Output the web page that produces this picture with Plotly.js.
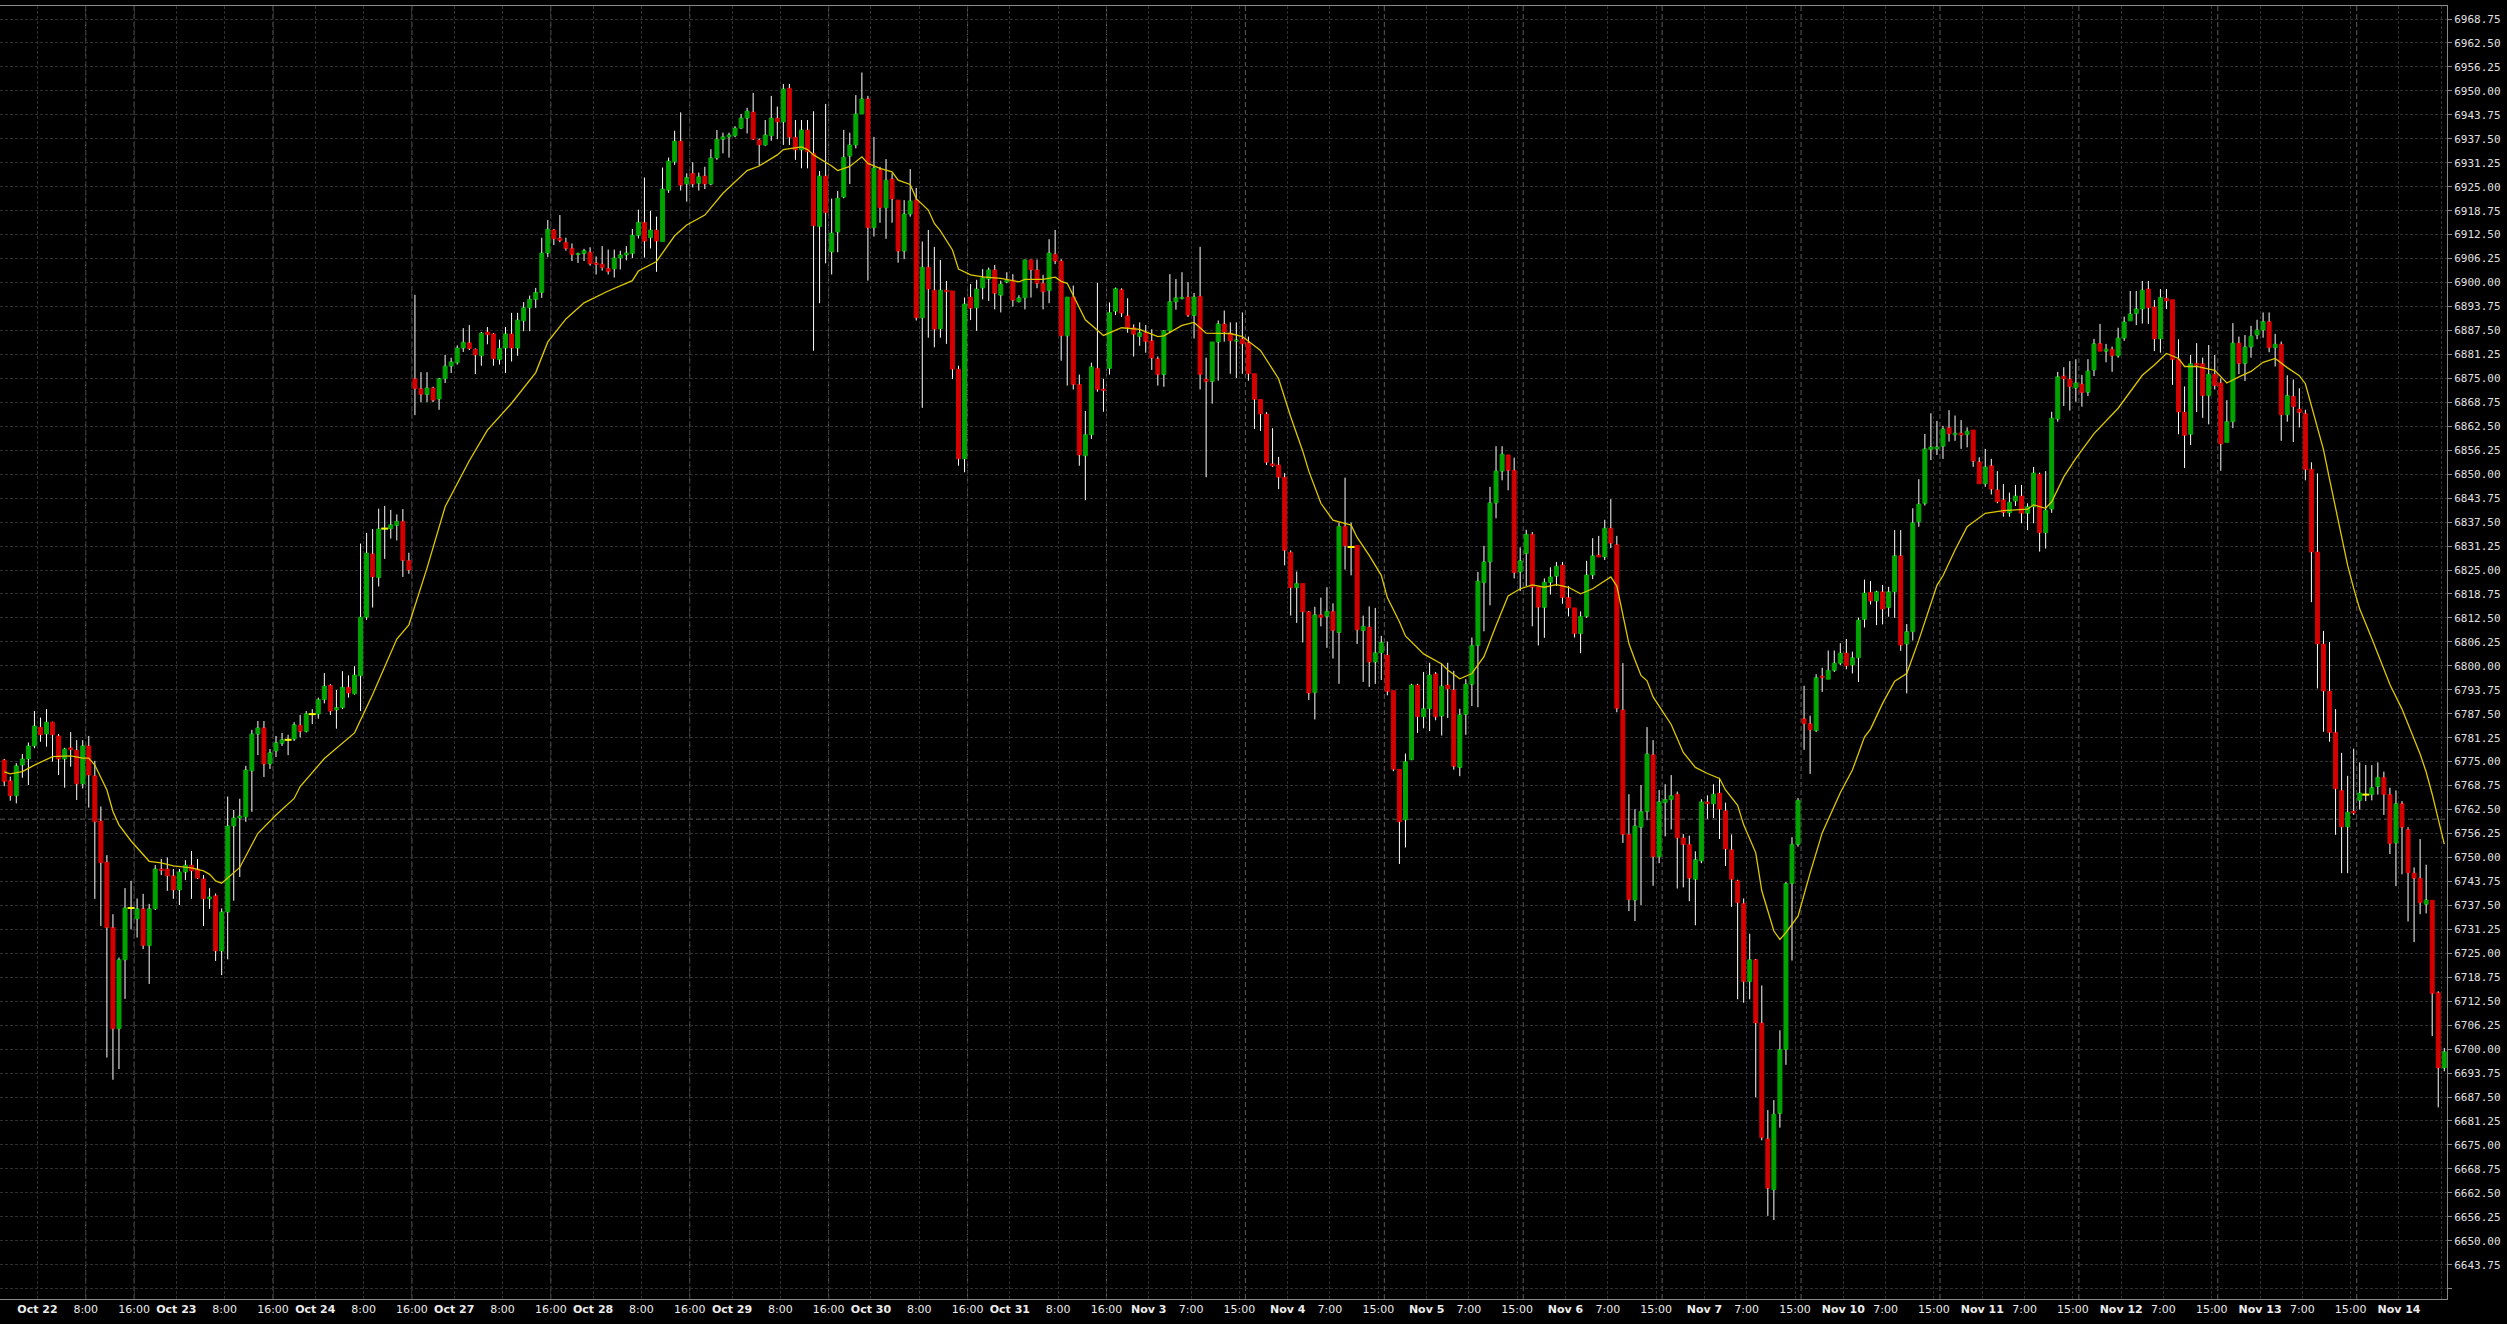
<!DOCTYPE html>
<html>
<head>
<meta charset="utf-8">
<script src="https://cdn.plot.ly/plotly-3.0.1.min.js"></script>
<style>
html,body{margin:0;padding:0;background:#000;overflow:hidden}
#chart{width:2507px;height:1324px}
</style>
</head>
<body>
<div id="chart"></div>
<script>
// ---- hourly OHLC bars (bar index 0..404) ----
const OPEN = [
6775.4,6770.0,6766.1,6774.1,6775.7,6779.1,6784.0,6782.2,6785.3,6781.7,
6775.7,6778.6,6778.0,6769.2,6779.1,6771.3,6759.5,6748.8,6731.7,6705.3,
6723.3,6736.8,6734.0,6736.6,6727.0,6736.6,6747.0,6747.0,6745.2,6741.5,
6746.2,6748.0,6747.0,6744.4,6739.2,6740.0,6725.6,6735.8,6758.2,6760.3,
6760.6,6772.6,6782.2,6783.8,6774.4,6777.8,6779.8,6780.7,6780.9,6784.5,
6782.9,6787.4,6787.4,6791.2,6794.9,6788.5,6789.1,6794.4,6792.7,6797.4,
6812.7,6829.2,6823.0,6835.8,6835.8,6836.6,6837.7,6827.5,6874.9,6872.3,
6870.8,6872.5,6869.6,6874.9,6878.2,6879.1,6882.9,6884.3,6882.6,6880.9,
6887.1,6886.6,6879.9,6882.9,6886.6,6882.9,6890.0,6893.4,6895.6,6897.4,
6907.7,6913.7,6911.6,6910.5,6908.9,6907.3,6907.6,6907.9,6905.1,6904.8,
6903.7,6903.6,6906.4,6907.2,6907.6,6912.3,6915.7,6911.7,6913.7,6910.7,
6924.1,6931.5,6936.9,6925.7,6928.5,6925.9,6927.8,6925.7,6932.5,6937.4,
6938.0,6938.3,6940.3,6942.9,6944.5,6937.2,6935.9,6938.3,6942.9,6941.9,
6950.7,6937.9,6934.6,6939.8,6933.7,6914.6,6927.8,6908.0,6913.2,6922.3,
6933.0,6935.9,6944.0,6947.9,6914.3,6929.4,6919.5,6927.0,6921.5,6908.2,
6917.9,6921.5,6890.8,6904.0,6898.0,6887.9,6898.0,6897.8,6877.4,6854.0,
6896.2,6893.4,6898.6,6900.9,6903.3,6896.7,6900.1,6900.6,6895.0,6896.0,
6905.9,6903.3,6899.8,6897.9,6907.4,6905.6,6886.1,6896.2,6873.4,6854.8,
6860.3,6877.6,6872.2,6877.6,6892.5,6898.1,6891.3,6888.2,6885.9,6886.9,
6884.8,6880.1,6876.0,6887.4,6895.0,6895.8,6896.2,6891.4,6896.4,6874.8,
6874.2,6884.5,6889.2,6886.8,6884.7,6885.3,6884.3,6876.2,6869.5,6865.7,
6852.7,6852.4,6849.2,6829.6,6820.4,6821.5,6814.1,6793.0,6813.3,6812.9,
6814.2,6808.7,6836.4,6831.0,6831.4,6809.2,6810.1,6801.0,6803.4,6802.8,
6793.5,6773.0,6759.8,6775.5,6795.0,6786.7,6788.8,6797.9,6786.9,6795.0,
6793.7,6773.5,6787.3,6795.2,6805.3,6821.7,6827.1,6842.5,6850.8,6855.0,
6851.0,6824.5,6829.3,6834.3,6820.5,6815.2,6821.8,6823.4,6826.3,6817.8,
6815.1,6808.4,6812.9,6823.7,6828.9,6828.4,6835.9,6831.6,6788.5,6756.0,
6738.9,6757.9,6762.0,6776.8,6750.2,6764.3,6765.1,6766.5,6755.1,6753.4,
6744.3,6749.1,6764.5,6764.0,6766.8,6762.2,6752.0,6743.9,6738.0,6717.6,
6723.3,6706.8,6676.6,6663.3,6683.2,6699.9,6743.2,6753.4,6786.2,6784.9,
6783.1,6797.3,6796.5,6798.8,6800.7,6803.3,6800.2,6802.1,6812.1,6819.2,
6816.9,6819.3,6815.2,6819.3,6828.7,6805.7,6808.9,6837.6,6842.4,6856.4,
6856.6,6857.3,6862.1,6860.3,6860.7,6860.3,6861.5,6853.2,6847.5,6852.2,
6845.9,6843.3,6839.9,6843.0,6844.3,6839.8,6841.5,6850.0,6834.7,6840.9,
6864.4,6875.6,6874.8,6872.5,6873.5,6871.4,6877.2,6884.1,6882.1,6882.6,
6880.9,6885.5,6890.0,6891.9,6893.1,6898.3,6893.6,6885.3,6895.9,6895.5,
6879.9,6866.2,6860.4,6878.9,6878.8,6870.5,6876.1,6873.8,6858.3,6863.7,
6884.2,6878.9,6883.2,6886.3,6887.6,6889.8,6883.0,6883.9,6865.5,6870.3,
6867.0,6865.8,6851.3,6829.7,6805.7,6793.4,6782.6,6767.5,6758.0,6762.1,
6764.9,6766.4,6766.4,6768.5,6770.9,6766.4,6753.8,6764.0,6757.3,6745.9,
6744.6,6737.8,6738.8,6714.7,6695.1
];
const HIGH = [
6775.7,6771.1,6774.6,6777.0,6780.0,6788.2,6786.5,6788.7,6785.4,6782.2,
6778.6,6782.7,6780.6,6780.6,6781.7,6775.2,6763.3,6750.6,6735.2,6723.9,
6742.0,6743.9,6739.3,6740.5,6737.9,6748.0,6749.6,6750.0,6747.0,6747.0,
6749.3,6751.7,6749.6,6745.4,6742.0,6740.6,6736.7,6765.9,6762.4,6765.3,
6773.9,6783.3,6785.6,6785.6,6778.3,6781.7,6782.5,6782.0,6785.3,6787.2,
6788.2,6788.7,6791.7,6798.1,6795.2,6793.7,6798.6,6797.5,6799.9,6831.9,
6834.7,6835.7,6841.0,6841.7,6840.7,6839.5,6840.9,6829.5,6896.8,6876.6,
6876.6,6872.8,6875.1,6881.1,6880.4,6883.6,6888.1,6888.9,6882.8,6887.1,
6888.4,6886.8,6885.1,6888.4,6892.1,6892.1,6894.9,6896.6,6898.6,6911.7,
6916.3,6913.9,6917.6,6911.7,6910.2,6907.8,6908.8,6909.2,6906.8,6909.5,
6908.6,6908.6,6908.3,6909.5,6914.0,6919.0,6927.4,6918.7,6917.2,6930.0,
6932.6,6939.6,6944.4,6928.5,6931.4,6928.7,6930.2,6934.8,6939.8,6939.1,
6939.1,6940.8,6944.0,6945.6,6949.5,6937.6,6942.4,6948.7,6945.9,6951.8,
6951.8,6942.4,6942.4,6942.4,6944.7,6929.1,6946.6,6921.9,6923.9,6939.8,
6939.1,6948.9,6954.8,6948.7,6938.0,6930.2,6932.2,6928.5,6921.5,6921.5,
6929.6,6924.7,6910.7,6913.7,6909.3,6905.9,6900.4,6897.8,6878.3,6896.1,
6899.6,6900.7,6903.5,6903.9,6904.6,6900.5,6902.7,6902.2,6896.7,6906.0,
6906.0,6906.0,6902.0,6911.3,6913.7,6906.1,6896.2,6899.2,6876.0,6866.5,
6879.1,6899.9,6874.9,6894.8,6898.7,6898.5,6895.9,6889.1,6889.6,6888.9,
6887.8,6880.7,6887.6,6902.2,6900.9,6902.7,6900.1,6897.3,6909.3,6880.4,
6884.5,6890.1,6892.7,6889.6,6889.6,6892.2,6885.9,6876.2,6869.5,6866.2,
6862.0,6854.5,6850.3,6830.1,6824.6,6821.5,6814.3,6815.4,6817.8,6820.5,
6816.3,6837.4,6849.1,6837.4,6831.4,6813.1,6815.5,6815.1,6807.8,6806.3,
6793.5,6773.0,6777.1,6795.3,6795.3,6798.4,6800.8,6798.4,6800.5,6800.8,
6798.7,6788.8,6796.5,6807.4,6824.5,6831.3,6846.7,6857.3,6857.3,6855.0,
6854.3,6830.9,6835.5,6834.9,6820.5,6822.8,6825.7,6827.1,6827.1,6820.8,
6815.1,6814.2,6827.4,6833.3,6833.9,6838.1,6843.5,6833.9,6800.7,6766.5,
6762.6,6768.9,6784.0,6780.6,6767.6,6769.1,6771.5,6767.2,6756.1,6755.7,
6751.6,6765.2,6766.2,6769.1,6770.8,6764.3,6756.0,6744.2,6739.3,6730.1,
6723.5,6716.6,6684.1,6686.7,6704.9,6743.6,6755.3,6765.5,6794.8,6787.0,
6797.8,6799.5,6804.0,6804.0,6805.9,6807.0,6803.7,6812.6,6822.5,6822.1,
6819.6,6821.1,6820.6,6835.4,6835.4,6810.9,6841.1,6848.7,6860.5,6865.9,
6863.9,6862.6,6866.7,6865.3,6864.1,6862.2,6861.5,6854.4,6856.6,6854.0,
6850.8,6847.4,6845.2,6847.2,6847.2,6842.4,6851.9,6850.4,6850.8,6866.3,
6876.7,6877.9,6879.5,6880.0,6875.9,6880.0,6885.3,6889.2,6884.0,6883.3,
6888.2,6891.1,6897.8,6897.8,6900.4,6900.4,6895.4,6898.3,6898.3,6895.5,
6885.2,6872.9,6881.1,6884.2,6880.4,6883.7,6881.1,6875.0,6869.3,6889.4,
6885.9,6886.3,6888.7,6890.3,6892.2,6892.2,6886.6,6884.6,6875.8,6874.7,
6872.4,6866.8,6853.1,6850.2,6809.1,6806.2,6788.7,6777.3,6771.3,6778.4,
6774.8,6774.1,6774.1,6774.8,6772.4,6768.2,6767.5,6764.7,6757.9,6747.4,
6754.8,6748.1,6738.8,6715.1,6700.3
];
const LOW = [
6768.6,6764.8,6764.1,6770.8,6768.9,6778.5,6780.2,6778.9,6775.0,6771.5,
6768.2,6773.7,6765.0,6768.0,6763.0,6739.2,6732.1,6697.8,6692.0,6694.8,
6713.1,6731.3,6729.1,6726.1,6717.0,6736.3,6745.4,6741.3,6739.2,6737.6,
6744.1,6739.2,6744.4,6732.1,6736.6,6723.0,6719.3,6723.4,6738.7,6744.9,
6759.3,6761.9,6776.7,6771.0,6773.1,6776.2,6779.1,6776.7,6780.4,6781.3,
6782.6,6784.8,6786.2,6790.2,6787.2,6783.6,6788.7,6791.7,6792.5,6788.2,
6812.0,6815.2,6820.7,6827.9,6833.2,6832.7,6823.2,6824.0,6865.4,6868.8,
6868.8,6868.8,6866.8,6873.8,6876.4,6878.6,6881.9,6882.4,6876.1,6878.3,
6883.9,6878.3,6878.6,6876.4,6879.4,6880.9,6887.3,6887.3,6893.4,6896.0,
6906.6,6909.8,6910.5,6908.3,6905.6,6905.1,6905.6,6904.4,6902.1,6903.1,
6902.1,6901.3,6903.4,6905.8,6906.4,6911.5,6906.5,6908.9,6902.8,6910.7,
6923.4,6930.7,6924.0,6921.1,6924.8,6924.0,6924.4,6925.4,6932.0,6933.7,
6932.6,6937.9,6940.1,6938.9,6937.2,6930.5,6935.7,6937.0,6937.4,6935.9,
6935.9,6932.0,6929.8,6929.8,6882.2,6894.6,6905.0,6902.1,6907.9,6922.0,
6925.7,6935.0,6944.0,6900.5,6912.0,6915.6,6911.4,6915.6,6905.2,6906.1,
6917.2,6890.1,6867.3,6885.6,6883.1,6885.6,6884.0,6874.8,6852.2,6850.5,
6890.2,6887.4,6895.6,6895.2,6893.0,6892.2,6899.8,6893.7,6894.8,6893.0,
6896.1,6898.5,6893.0,6894.6,6904.8,6879.6,6873.1,6872.1,6852.2,6843.2,
6859.2,6871.5,6866.3,6876.0,6891.5,6891.0,6886.9,6880.7,6883.5,6881.7,
6877.2,6873.1,6872.8,6886.8,6892.9,6895.6,6891.0,6885.4,6872.1,6849.2,
6868.4,6874.4,6884.6,6876.2,6875.1,6876.2,6874.4,6861.8,6861.3,6852.4,
6851.9,6846.1,6826.2,6813.1,6811.2,6806.1,6791.1,6786.0,6810.3,6804.7,
6801.9,6795.3,6825.1,6823.6,6805.7,6795.8,6794.5,6795.3,6796.3,6792.3,
6772.5,6748.3,6752.6,6775.4,6782.5,6783.7,6783.0,6785.8,6781.8,6786.4,
6772.9,6771.2,6782.0,6789.5,6789.2,6809.0,6815.8,6838.5,6848.4,6845.8,
6822.8,6819.5,6820.8,6810.3,6805.3,6807.3,6818.6,6820.8,6816.2,6812.9,
6807.4,6803.3,6812.5,6822.6,6828.4,6827.6,6830.7,6787.9,6753.8,6736.0,
6733.4,6737.6,6759.7,6742.6,6748.5,6755.5,6757.3,6741.9,6742.2,6738.6,
6732.3,6748.5,6760.1,6760.3,6754.8,6747.8,6737.1,6713.0,6712.1,6713.0,
6687.4,6676.2,6656.5,6655.4,6679.5,6695.9,6723.1,6752.8,6778.1,6771.8,
6782.7,6793.2,6796.5,6798.4,6800.2,6799.1,6798.0,6795.8,6810.0,6816.0,
6810.6,6810.8,6812.8,6812.5,6803.9,6792.8,6806.6,6836.3,6841.8,6853.7,
6855.0,6854.0,6858.5,6858.7,6856.6,6857.0,6851.9,6847.5,6846.7,6844.7,
6842.4,6838.9,6838.9,6841.7,6837.2,6835.4,6837.2,6829.8,6830.6,6839.9,
6863.7,6867.8,6866.6,6868.9,6867.6,6870.4,6875.6,6882.1,6879.2,6876.7,
6880.4,6884.8,6890.0,6888.9,6889.3,6889.2,6882.1,6881.7,6893.1,6873.3,
6860.4,6851.6,6857.6,6866.2,6864.7,6863.0,6872.1,6850.9,6858.3,6862.0,
6876.1,6874.3,6880.4,6885.2,6885.6,6881.8,6878.1,6858.7,6863.7,6858.4,
6862.2,6848.4,6816.6,6794.1,6782.8,6780.2,6755.9,6745.9,6745.9,6761.1,
6762.5,6764.7,6764.9,6766.4,6761.1,6750.9,6742.5,6745.6,6733.3,6727.9,
6735.2,6735.4,6703.4,6684.8,6694.2
];
const CLOSE = [
6769.8,6766.1,6773.9,6775.7,6779.1,6784.3,6782.0,6785.3,6782.0,6775.7,
6778.3,6778.1,6769.2,6779.1,6771.5,6759.3,6748.6,6731.7,6705.3,6723.3,
6736.8,6736.8,6736.6,6727.0,6736.6,6747.0,6746.6,6745.2,6741.5,6746.2,
6748.0,6746.5,6744.6,6739.2,6739.7,6725.6,6735.8,6758.2,6760.3,6760.8,
6772.8,6782.2,6783.8,6774.4,6777.3,6779.9,6780.7,6780.7,6784.6,6782.9,
6787.5,6787.4,6791.2,6794.7,6788.2,6789.1,6794.4,6792.9,6797.6,6812.7,
6829.4,6823.2,6835.7,6835.8,6836.8,6837.7,6827.5,6825.0,6872.3,6870.8,
6872.5,6869.3,6874.9,6878.2,6879.3,6882.9,6884.4,6882.8,6881.1,6886.8,
6886.4,6880.1,6882.8,6886.6,6882.9,6890.2,6893.4,6895.6,6897.4,6907.7,
6913.9,6911.4,6911.0,6908.9,6907.3,6907.6,6908.3,6904.9,6904.7,6903.9,
6902.9,6906.4,6907.2,6907.7,6912.3,6915.7,6910.8,6913.7,6910.8,6924.4,
6931.7,6936.9,6925.4,6927.4,6925.7,6927.6,6925.7,6932.5,6937.4,6938.0,
6938.5,6940.3,6942.9,6944.7,6937.4,6935.9,6938.5,6942.9,6941.9,6950.5,
6937.9,6934.6,6939.8,6934.1,6914.8,6927.8,6918.2,6912.9,6922.0,6932.7,
6935.9,6944.0,6947.9,6914.3,6929.9,6919.5,6926.7,6921.8,6908.2,6917.9,
6921.3,6890.8,6904.0,6898.3,6887.8,6898.0,6897.6,6877.4,6854.0,6894.4,
6893.3,6898.3,6901.2,6903.3,6897.2,6899.6,6900.6,6895.4,6896.0,6905.9,
6903.3,6899.8,6897.6,6907.7,6905.6,6886.1,6896.2,6873.4,6855.0,6860.3,
6878.0,6872.1,6871.8,6892.2,6898.4,6892.0,6888.2,6886.5,6886.9,6884.6,
6880.3,6876.0,6887.4,6895.0,6896.0,6896.1,6891.5,6896.2,6876.0,6874.2,
6884.5,6889.2,6887.1,6884.8,6885.0,6884.0,6876.2,6869.5,6865.7,6853.1,
6852.2,6849.2,6830.1,6820.4,6821.5,6814.1,6792.9,6813.3,6812.6,6814.2,
6809.2,6836.4,6831.3,6831.0,6809.4,6810.3,6801.0,6803.4,6806.1,6793.3,
6773.0,6759.3,6775.0,6795.0,6786.7,6788.8,6797.6,6786.7,6794.7,6794.0,
6773.8,6787.2,6795.2,6805.3,6822.1,6827.1,6842.5,6850.8,6855.2,6851.0,
6824.3,6827.4,6834.3,6820.5,6815.3,6821.8,6823.2,6826.0,6817.8,6815.1,
6808.4,6812.9,6823.7,6828.7,6828.4,6835.9,6832.0,6788.9,6756.0,6739.0,
6758.2,6762.0,6777.0,6750.2,6764.5,6765.1,6766.1,6755.1,6753.4,6744.6,
6749.4,6764.5,6764.0,6766.5,6762.6,6752.2,6744.3,6738.2,6717.6,6723.3,
6706.8,6676.9,6663.7,6683.0,6699.9,6743.2,6753.4,6764.9,6784.9,6783.3,
6796.9,6796.9,6798.8,6800.7,6803.3,6800.0,6802.1,6811.9,6819.0,6816.9,
6819.3,6814.8,6819.3,6828.7,6805.4,6808.9,6837.3,6842.2,6856.6,6857.1,
6857.1,6861.8,6860.5,6860.7,6860.2,6861.2,6853.4,6847.5,6851.9,6846.1,
6842.8,6840.0,6842.7,6844.3,6839.8,6841.5,6850.3,6834.7,6840.6,6864.6,
6875.4,6874.9,6872.8,6873.8,6871.3,6876.9,6884.0,6882.1,6882.6,6880.9,
6885.5,6889.7,6891.8,6893.1,6898.0,6893.4,6885.3,6896.1,6895.2,6879.9,
6866.2,6860.1,6878.8,6878.4,6870.5,6876.1,6873.1,6857.9,6863.7,6884.2,
6878.9,6883.2,6886.0,6887.6,6889.8,6883.0,6883.9,6865.5,6870.5,6867.6,
6866.1,6851.2,6829.7,6805.7,6793.4,6782.6,6767.9,6758.0,6761.8,6761.6,
6766.8,6766.4,6768.2,6770.9,6766.4,6753.6,6764.0,6757.9,6746.0,6744.6,
6738.2,6738.9,6714.5,6695.1,6699.3
];

// ---- moving average line (bar index, price) ----
const MA_X = [0,1,3,5,8,11,13,14,15,17,18,19,21,24,26,28,31,33,34,35,36,38,39,42,45,48,49,53,58,61,65,67,70,73,77,80,84,88,90,93,96,100,104,105,108,111,113,116,119,123,125,128,129,132,133,134,135,137,138,140,142,143,145,147,148,150,151,153,154,155,157,158,160,162,165,168,169,172,174,175,176,179,182,185,188,191,192,195,197,199,203,205,208,211,213,215,216,218,220,223,224,226,228,229,231,232,235,238,239,241,243,245,247,249,251,253,255,257,259,261,263,266,267,268,269,270,271,272,273,276,278,280,282,284,285,287,288,290,291,293,294,295,297,299,301,304,306,308,309,311,313,315,317,320,321,323,325,328,331,335,336,338,339,341,343,346,350,354,356,358,360,361,363,366,368,370,372,374,376,378,380,381,382,384,385,386,388,389,390,392,395,397,400,401,402,404];
const MA_Y = [6772.3,6771.8,6772.4,6774.1,6776.3,6776.5,6775.9,6775.9,6774.1,6767.6,6762.0,6758.5,6754.3,6749.0,6748.6,6747.8,6747.3,6746.5,6745.6,6743.9,6743.3,6746.0,6747.4,6756.3,6761.1,6765.4,6768.5,6775.8,6782.5,6792.5,6807.0,6810.7,6825.5,6841.5,6853.5,6861.5,6868.5,6876.5,6884.5,6890.5,6894.7,6897.8,6900.5,6903.0,6905.5,6912.2,6915.0,6917.6,6923.3,6929.2,6930.4,6933.3,6934.7,6935.4,6934.7,6933.3,6932.4,6930.4,6929.2,6930.3,6932.8,6931.1,6929.8,6928.9,6926.7,6925.6,6921.9,6918.9,6915.4,6913.5,6908.5,6903.5,6902.0,6901.5,6901.1,6900.2,6900.8,6900.8,6901.4,6900.3,6899.8,6890.3,6886.2,6888.2,6887.8,6885.9,6886.1,6888.8,6889.6,6886.8,6886.7,6885.9,6882.3,6874.9,6865.0,6856.0,6850.8,6842.4,6838.0,6836.7,6833.5,6828.8,6823.6,6817.8,6811.5,6807.8,6803.1,6800.5,6798.9,6796.6,6798.0,6802.4,6810.5,6818.2,6820.1,6821.1,6820.5,6821.2,6820.5,6818.8,6820.1,6823.2,6820.8,6813.0,6805.8,6801.5,6797.5,6796.1,6791.9,6784.7,6777.4,6773.5,6771.9,6770.6,6767.6,6763.6,6758.5,6751.2,6741.3,6730.8,6728.6,6730.4,6734.7,6745.9,6756.4,6766.9,6772.8,6781.4,6783.5,6790.2,6796.0,6798.0,6806.7,6821.0,6823.5,6830.2,6836.3,6839.8,6840.5,6840.9,6842.0,6841.1,6842.8,6849.3,6854.1,6860.6,6867.2,6875.8,6878.5,6881.5,6880.2,6878.1,6878.1,6877.1,6873.8,6875.4,6876.8,6879.2,6880.2,6877.8,6875.7,6873.6,6867.9,6856.4,6848.7,6841.0,6826.2,6820.2,6814.8,6807.1,6795.1,6788.7,6777.0,6772.3,6766.5,6753.5];

// ---- axis labels ----
const DAY_LABELS = ['Oct 22','Oct 23','Oct 24','Oct 27','Oct 28','Oct 29','Oct 30','Oct 31',
                    'Nov 3','Nov 4','Nov 5','Nov 6','Nov 7','Nov 10','Nov 11','Nov 12','Nov 13','Nov 14'];
const HOURS_OCT = [['8:00', 8], ['16:00', 16]];
const HOURS_NOV = [['7:00', 7], ['15:00', 15]];
const NOV_FROM = 8;            // first day using the 7:00 / 15:00 labels
const BARS_PER_DAY = 23;
const FIRST_DAY_START = 5.5;   // day boundary, in bar-index units
const SESSION_OFFSET = 16;     // session break (brighter dashed line) inside a day
const EXTRA_BREAKS = [13.5];
const REF_PRICE = 6760;        // brighter horizontal dashed line
const Y_STEP = 6.25, Y_FIRST = 6637.5, Y_LAST = 6968.75;
const X_RANGE = [-0.7, 404.45], Y_RANGE = [6634.8, 6972.15];

const GREEN = '#00a400', RED = '#d40000';

const N = OPEN.length;
const idx = Array.from({length: N}, (_, i) => i);
const bodyHigh = idx.map(i => Math.max(OPEN[i], CLOSE[i]));
const bodyLow = idx.map(i => Math.min(OPEN[i], CLOSE[i]));
const dojiIdx = idx.filter(i => Math.abs(OPEN[i] - CLOSE[i]) < 0.05);

// x ticks
const tickPos = [], tickText = [];
DAY_LABELS.forEach((d, k) => {
  const start = FIRST_DAY_START + BARS_PER_DAY * k;
  tickPos.push(start); tickText.push('<b>' + d + '</b>');
  (k >= NOV_FROM ? HOURS_NOV : HOURS_OCT).forEach(([lab, off]) => {
    const p = start + off;
    if (p < X_RANGE[1]) { tickPos.push(p); tickText.push(p < X_RANGE[1] - 3 ? lab : ''); }
  });
});
// y ticks
const yVals = [], yText = [];
for (let v = Y_FIRST; v <= Y_LAST + 1e-6; v += Y_STEP) {
  yVals.push(v); yText.push(v - Y_FIRST < 1 ? '' : v.toFixed(2));
}
// session-break lines
const breaks = EXTRA_BREAKS.slice();
DAY_LABELS.forEach((d, k) => {
  const p = FIRST_DAY_START + BARS_PER_DAY * k + SESSION_OFFSET;
  if (p < X_RANGE[1]) breaks.push(p);
});
const shapes = breaks.map(p => ({
  type: 'line', xref: 'x', yref: 'paper', x0: p, x1: p, y0: 0, y1: 1, layer: 'below',
  line: {color: '#5c5c5c', width: 1, dash: '5px,3px'}
}));
shapes.push({type: 'line', xref: 'paper', yref: 'y', x0: 0, x1: 1, y0: REF_PRICE, y1: REF_PRICE,
  layer: 'below', line: {color: '#5c5c5c', width: 1, dash: '5px,3px'}});

const wickStyle = {
  tickwidth: 0, hoverinfo: 'skip',
  increasing: {line: {color: '#ffffff', width: 1}},
  decreasing: {line: {color: '#ffffff', width: 1}}
};
const traces = [
  { // bodies
    type: 'candlestick', x: idx, open: OPEN, high: bodyHigh, low: bodyLow, close: CLOSE,
    whiskerwidth: 0, hoverinfo: 'skip',
    increasing: {line: {color: GREEN, width: 1}, fillcolor: GREEN},
    decreasing: {line: {color: RED, width: 1}, fillcolor: RED}
  },
  Object.assign({ // upper wicks
    type: 'ohlc', x: idx, open: bodyHigh, high: HIGH, low: bodyHigh, close: bodyHigh
  }, wickStyle),
  Object.assign({ // lower wicks
    type: 'ohlc', x: idx, open: bodyLow, high: bodyLow, low: LOW, close: bodyLow
  }, wickStyle),
  { // doji bars
    type: 'scatter', mode: 'markers', x: dojiIdx, y: dojiIdx.map(i => CLOSE[i]),
    hoverinfo: 'skip',
    marker: {symbol: 'line-ew', size: 5, color: '#ffff00', line: {color: '#ffff00', width: 2}}
  },
  { // moving average
    type: 'scatter', mode: 'lines', x: MA_X, y: MA_Y, hoverinfo: 'skip',
    line: {color: '#dcc800', width: 1.3}
  }
];

const layout = {
  width: 2507, height: 1324,
  paper_bgcolor: '#000000', plot_bgcolor: '#000000',
  margin: {l: 0, r: 60, t: 6, b: 25, pad: 0},
  showlegend: false,
  boxgap: 0.34, boxgroupgap: 0,
  font: {family: 'DejaVu Sans', color: '#e8e8e8', size: 11},
  xaxis: {
    range: X_RANGE, autorange: false, fixedrange: true,
    rangeslider: {visible: false},
    tickmode: 'array', tickvals: tickPos, ticktext: tickText, ticks: '',
    tickfont: {family: 'DejaVu Sans', size: 11, color: '#ececec'},
    showgrid: true, gridcolor: '#2f2f2f', gridwidth: 1, griddash: '3px,2px',
    showline: true, linecolor: '#8a8a8a', linewidth: 1, mirror: true,
    zeroline: false, automargin: false
  },
  yaxis: {
    side: 'right', range: Y_RANGE, autorange: false, fixedrange: true,
    tickmode: 'array', tickvals: yVals, ticktext: yText,
    ticks: 'outside', ticklen: 4, tickcolor: '#8a8a8a', tickwidth: 1,
    tickfont: {family: 'DejaVu Sans Mono', size: 11, color: '#e0e0e0'},
    showgrid: true, gridcolor: '#2f2f2f', gridwidth: 1, griddash: '3px,2px',
    showline: true, linecolor: '#8a8a8a', linewidth: 1,
    zeroline: false, automargin: false
  },
  shapes: shapes
};

Plotly.newPlot('chart', traces, layout, {staticPlot: true, displayModeBar: false});
</script>
</body>
</html>
